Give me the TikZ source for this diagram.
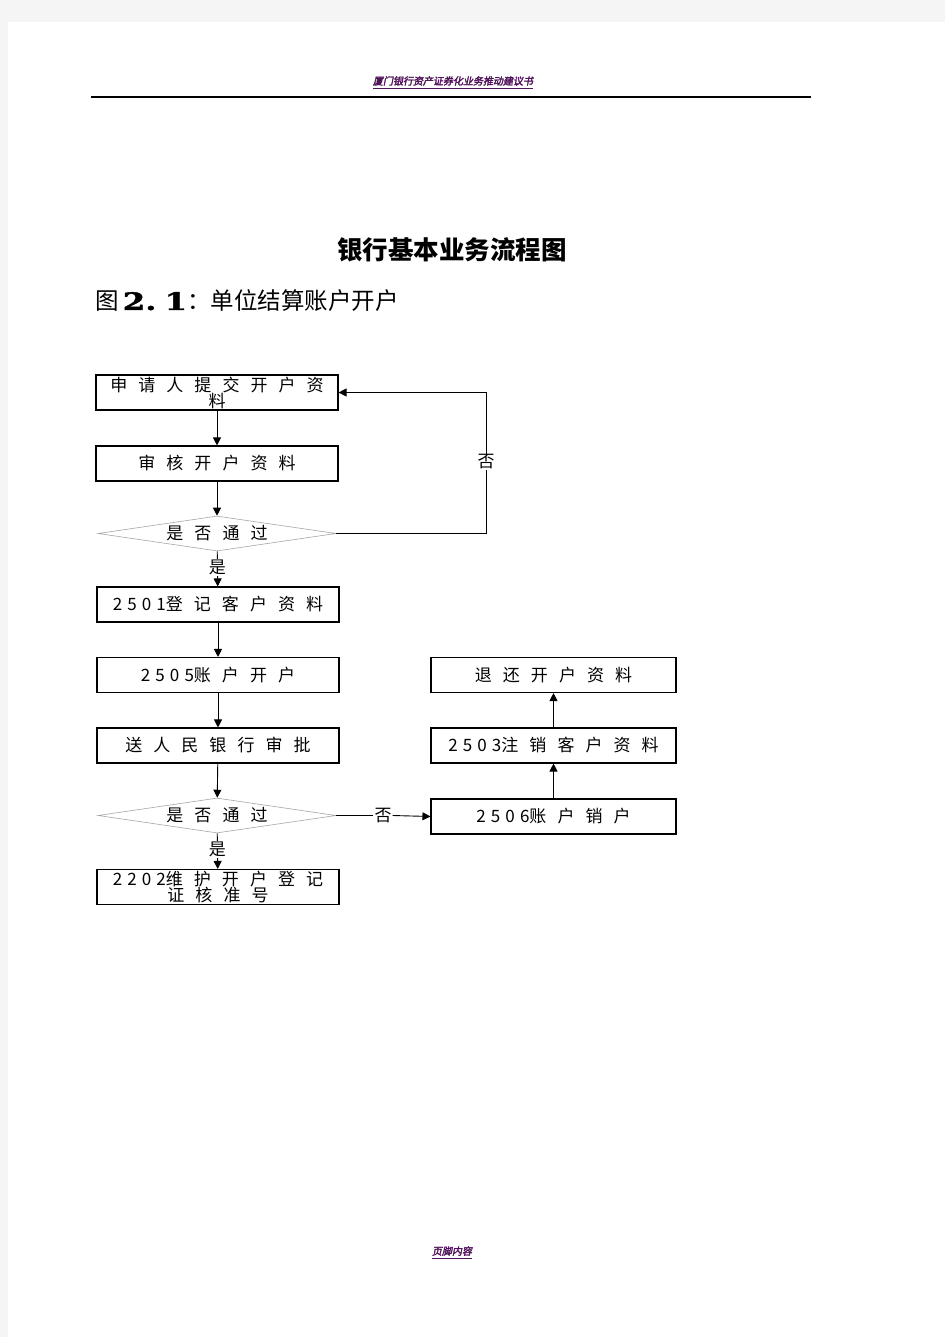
\documentclass[tikz,border=0pt]{standalone}
\usepackage{fontspec}
\setmainfont{Noto Sans CJK SC}
\newfontfamily\cjkwide[LetterSpace=65]{Noto Sans CJK SC}
\newfontfamily\numwide[LetterSpace=30]{Noto Sans CJK SC}
\newfontfamily\headfont[FakeSlant=0.2,FakeBold=2.5]{Noto Sans CJK SC}
\newfontfamily\subnum[FakeStretch=1.35,FakeBold=1.5]{DejaVu Serif}
\usetikzlibrary{shapes.geometric,arrows.meta,positioning,calc}
\definecolor{headpurple}{RGB}{80,20,90}
\newcommand\lbl[2]{{\numwide #1}{\cjkwide #2}}

\begin{document}
\begin{tikzpicture}[x=1pt, y=-1pt,
    box/.style={draw, line width=1.1pt, minimum width=242pt, minimum height=35pt, inner sep=0pt, align=center, font=\fontsize{17pt}{16pt}\selectfont},
    decide/.style={draw=black!35, line width=0.6pt, diamond, aspect=6.8, minimum width=238pt, minimum height=35pt, inner sep=0pt, font=\fontsize{17pt}{16pt}\selectfont},
    tag/.style={fill=white, inner sep=1pt, font=\fontsize{17pt}{16pt}\selectfont},
    head/.style={text=headpurple, inner sep=0pt, font=\headfont\fontsize{10pt}{10pt}\selectfont},
    arr/.style={-{Triangle[length=8pt,width=8pt]}, line width=0.9pt}
]
    % page
    \fill[black!4] (0,0) rectangle (945,1337);
    \fill[white] (8,22) rectangle (945,1337);
    \useasboundingbox (0,0) rectangle (945,1337);

    % header and footer
    \node[head] (hd) at (453,81) {厦门银行资产证券化业务推动建议书};
    \draw[headpurple, line width=1pt] ($(hd.south west)+(0,3)$) -- ($(hd.south east)+(0,3)$);
    \draw[line width=1.2pt] (91,97) -- (811,97);
    \node[head] (ft) at (452,1251) {页脚内容};
    \draw[headpurple, line width=1pt] ($(ft.south west)+(0,3)$) -- ($(ft.south east)+(0,3)$);

    % titles
    \node[font=\fontsize{25.5pt}{26pt}\selectfont\bfseries] (title) at (452,250) {银行基本业务流程图};
    \node[anchor=west, inner sep=0pt, font=\fontsize{23.5pt}{24pt}\selectfont] (sub) at (95,301) {图\hspace{4pt}{\subnum\bfseries\fontsize{24pt}{24pt}\selectfont 2.\hspace{8pt}1}：单位结算账户开户};

    % left column
    \node[box] (apply) at (217,392.5) {\lbl{}{申请人提交开户资}\\\lbl{}{料}};
    \node[box] (review) at (217,463.5) {\lbl{}{审核开户资料}};
    \node[decide] (check1) at (217,533.5) {\lbl{}{是否通过}};
    \node[box] (reg) at (218,604.5) {\lbl{2501}{登记客户资料}};
    \node[box] (open) at (218,675) {\lbl{2505}{账户开户}};
    \node[box] (pboc) at (218,745.5) {\lbl{}{送人民银行审批}};
    \node[decide] (check2) at (217,815.5) {\lbl{}{是否通过}};
    \node[box] (keep) at (218,887) {\lbl{2202}{维护开户登记}\\\lbl{}{证核准号}};

    % right column
    \node[box, minimum width=245pt] (close) at (553.5,816.5) {\lbl{2506}{账户销户}};
    \node[box, minimum width=245pt] (cancel) at (553.5,745.5) {\lbl{2503}{注销客户资料}};
    \node[box, minimum width=245pt] (back) at (553.5,675) {\lbl{}{退还开户资料}};

    % connectors
    \draw[arr] (apply) -- (review);
    \draw[arr] (review) -- (check1);
    \draw[arr] (check1) -- (reg) node[tag, pos=0.45] (yes1) {是};
    \draw[arr] (reg) -- (open);
    \draw[arr] (open) -- (pboc);
    \draw[arr] (pboc) -- (check2);
    \draw[arr] (check2) -- (keep) node[tag, pos=0.45] (yes2) {是};

    \coordinate (turn) at (486,392.5);
    \draw[arr] (check1.east) -| (turn) -- (apply.east);
    \node[tag] (no1) at (486,462) {否};

    \node[tag, fill=none] (no2) at (383,815.5) {否};
    \draw[line width=0.9pt] (check2.east) -- (no2.west);
    \draw[arr] (no2.east) -- (close.west);
    \draw[arr] (close) -- (cancel);
    \draw[arr] (cancel) -- (back);
\end{tikzpicture}
\end{document}
